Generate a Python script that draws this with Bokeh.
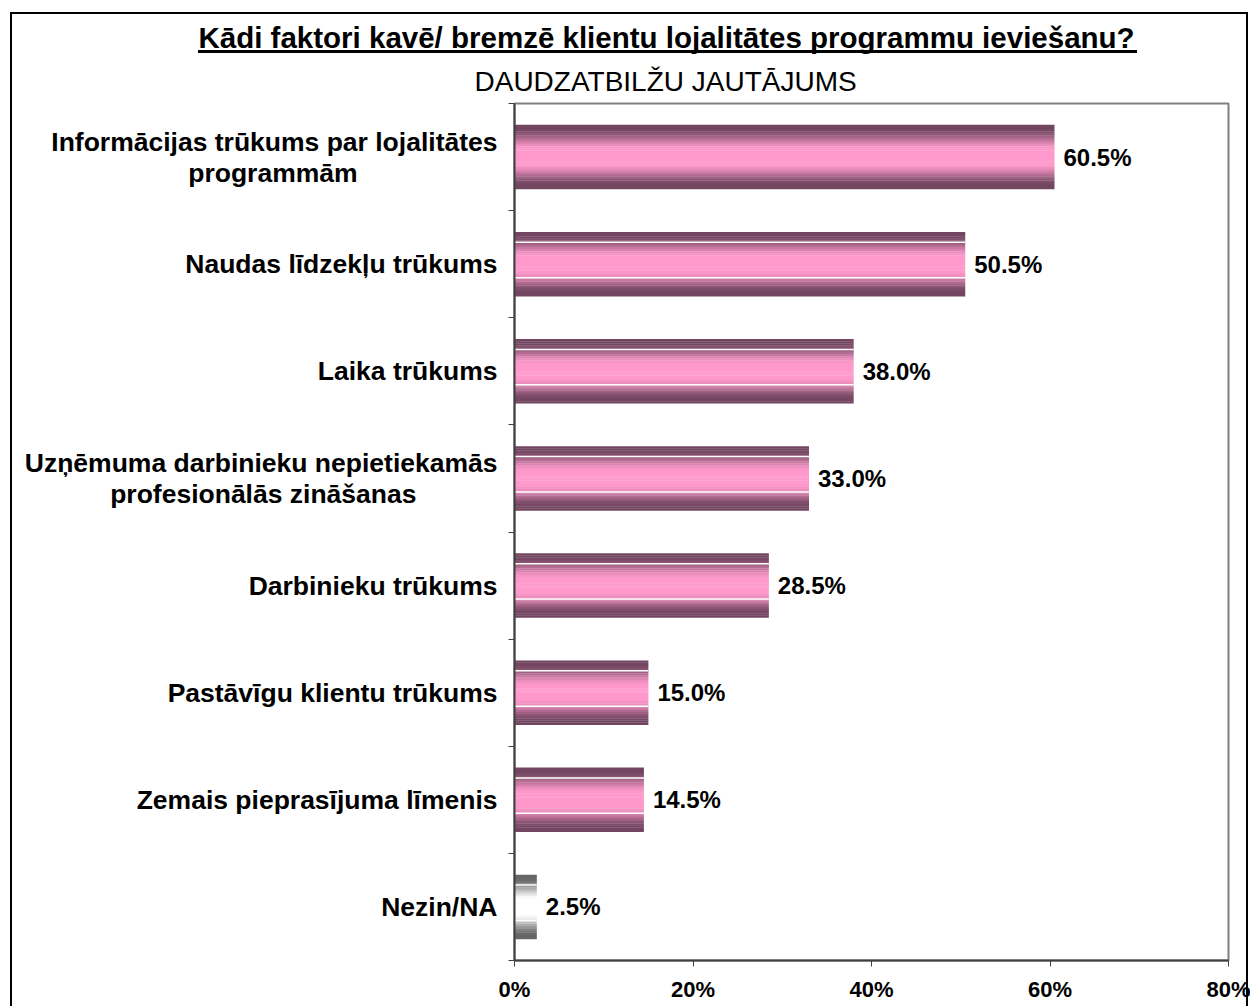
from bokeh.plotting import figure
from bokeh.models import Range1d, FixedTicker, PrintfTickFormatter, Title, ColumnDataSource, InlineStyleSheet
from bokeh.core.properties import value
from bokeh.embed import file_html
from bokeh.resources import INLINE

# ---------------- data ----------------
categories = [
    "Informācijas trūkums par lojalitātes\nprogrammām",
    "Naudas līdzekļu trūkums",
    "Laika trūkums",
    "Uzņēmuma darbinieku nepietiekamās\nprofesionālās zināšanas",
    "Darbinieku trūkums",
    "Pastāvīgu klientu trūkums",
    "Zemais pieprasījuma līmenis",
    "Nezin/NA",
]
values = [60.5, 50.5, 38.0, 33.0, 28.5, 15.0, 14.5, 2.5]
x_ticks = [0, 20, 40, 60, 80]
title_text = "Kādi faktori kavē/ bremzē klientu lojalitātes programmu ieviešanu?"
subtitle_text = "DAUDZATBILŽU JAUTĀJUMS"

# ---------------- style ----------------
FONT = "Liberation Sans"
PINK_EDGE, PINK_CENTER = (0x72, 0x46, 0x60), (0xFF, 0x99, 0xCC)
GRAY_EDGE, GRAY_CENTER = (0x66, 0x66, 0x66), (0xFF, 0xFF, 0xFF)
BAR_H = 0.6
N_STRIPS = 30
NB = "\u00a0"
# trailing no-break spaces so that the second line sits roughly centred under the first
label_pad = {0: 19, 3: 11}


def mix(c_edge, c_center, t):
    s = min(max((t - 0.2) / 0.7, 0.0), 1.0)
    f = s * s * (3 - 2 * s)
    r = [round(c_center[j] + (c_edge[j] - c_center[j]) * f) for j in range(3)]
    return "#%02x%02x%02x" % tuple(r)


W, H = 1250, 1006
p = figure(width=W, height=H, output_backend="svg", toolbar_location=None,
           x_range=Range1d(0, 80), y_range=Range1d(len(categories) - 0.5, -0.5),
           min_border_left=514, min_border_right=22, min_border_top=103, min_border_bottom=46)
p.background_fill_color = "white"
p.border_fill_color = "white"
p.outline_line_color = "#808080"
p.outline_line_width = 2
p.xgrid.visible = False
p.ygrid.visible = False

# gradient bars built from thin strips
ys, lefts, rights, cols = [], [], [], []
for i, v in enumerate(values):
    edge, center = (GRAY_EDGE, GRAY_CENTER) if i == len(values) - 1 else (PINK_EDGE, PINK_CENTER)
    for k in range(N_STRIPS):
        pos = (k + 0.5) / N_STRIPS
        t = abs(pos - 0.5) * 2
        ys.append(i - BAR_H / 2 + pos * BAR_H)
        lefts.append(0)
        rights.append(v)
        cols.append(mix(edge, center, t))
src = ColumnDataSource(dict(y=ys, left=lefts, right=rights, color=cols))
p.hbar(y="y", left="left", right="right", height=BAR_H / N_STRIPS * 1.15,
       fill_color="color", line_color=None, source=src)

# thin white highlight lines
sy, sx1 = [], []
for i, v in enumerate(values):
    if i == 0:
        continue
    for fr in (0.16, 0.71):
        sy.append(i - BAR_H / 2 + fr * BAR_H)
        sx1.append(v)
p.segment(x0=[0] * len(sy), x1=sx1, y0=sy, y1=sy, line_color="white", line_width=1.5)

# value labels
p.text(x=values, y=list(range(len(values))), text=[f"{v:.1f}%" for v in values],
       x_offset=9, text_baseline="middle", text_align="left",
       text_font=value(FONT), text_font_style="bold", text_font_size="24px", text_color="black")

# y axis
overrides = {}
for i, c in enumerate(categories):
    if i in label_pad:
        overrides[i] = c + NB * label_pad[i]
    else:
        overrides[i] = c
ya = p.yaxis[0]
ya.ticker = FixedTicker(ticks=list(range(len(categories))),
                        minor_ticks=[i - 0.5 for i in range(len(categories) + 1)])
ya.major_label_overrides = overrides
ya.major_tick_out = 0
ya.major_tick_in = 0
ya.minor_tick_out = 6
ya.minor_tick_in = 0
ya.minor_tick_line_color = "#404040"
ya.minor_tick_line_width = 1
ya.axis_line_color = "#404040"
ya.axis_line_width = 2
ya.major_label_standoff = 11
ya.major_label_text_font = FONT
ya.major_label_text_font_style = "bold"
ya.major_label_text_font_size = "26.5px"
ya.major_label_text_line_height = 1.03
ya.major_label_text_color = "black"

# x axis
xa = p.xaxis[0]
xa.ticker = FixedTicker(ticks=x_ticks)
xa.formatter = PrintfTickFormatter(format="%d%%")
xa.major_tick_out = 6
xa.major_tick_in = 0
xa.minor_tick_out = 0
xa.minor_tick_in = 0
xa.major_tick_line_color = "#404040"
xa.axis_line_color = "#404040"
xa.axis_line_width = 2
xa.major_label_standoff = 10
xa.major_label_text_font = FONT
xa.major_label_text_font_style = "bold"
xa.major_label_text_font_size = "22px"
xa.major_label_text_color = "black"

# titles: p.title ends up outermost, the added Title sits next to the frame
p.title.text = title_text
p.title.align = "left"
p.title.offset = -316
p.title.standoff = 6
p.title.text_font = FONT
p.title.text_font_style = "bold"
p.title.text_font_size = "29.5px"
p.title.text_color = "black"
p.add_layout(Title(text=subtitle_text, align="left", offset=-40, standoff=14,
                   text_font=FONT, text_font_style="normal", text_font_size="28px",
                   text_color="black"), "above")

# outer chart frame and title underline (pure decoration)
p.stylesheets = [InlineStyleSheet(css="""
:host { position: relative; }
:host::before { content: ""; position: absolute; left: 10px; top: 12px; right: 2px; bottom: 0px;
  border: 2px solid black; border-bottom: none; pointer-events: none; z-index: 10; }
:host::after { content: ""; position: absolute; left: 198px; top: 50px; width: 939px; height: 3px;
  background: black; pointer-events: none; z-index: 10; }
""")]

open("out.html", "w").write(file_html(p, INLINE))
